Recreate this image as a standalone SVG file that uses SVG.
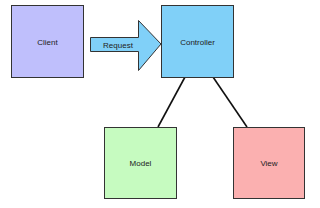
<svg xmlns="http://www.w3.org/2000/svg" width="320" height="208" viewBox="0 0 320 208">
<style>
.box{stroke:#333;stroke-width:1}
.lbl{font-family:"Liberation Sans",Arial,sans-serif;font-size:8px;fill:#222;text-anchor:middle;dominant-baseline:central}
.conn{stroke:#111;stroke-width:1.6;fill:none}
</style>
<rect width="320" height="208" fill="#fff"/>
<g id="connectors">
<line class="conn" x1="185" y1="77" x2="158" y2="127"/>
<line class="conn" x1="213" y1="77" x2="247" y2="127"/>
</g>
<g id="client">
<rect class="box" x="11.5" y="5.5" width="72" height="72" fill="#bfbffc"/>
<text class="lbl" x="47.5" y="42">Client</text>
</g>
<g id="request">
<polygon class="box" points="90.5,37.5 138.5,37.5 138.5,20.5 161,44 138.5,70.5 138.5,51.5 90.5,51.5" fill="#80d0f8"/>
<text class="lbl" x="118" y="45">Request</text>
</g>
<g id="controller">
<rect class="box" x="161.5" y="5.5" width="72" height="72" fill="#80d0f8"/>
<text class="lbl" x="197.5" y="42">Controller</text>
</g>
<g id="model">
<rect class="box" x="104.5" y="127.5" width="72" height="71" fill="#c6fbc0"/>
<text class="lbl" x="140.5" y="163">Model</text>
</g>
<g id="view">
<rect class="box" x="233.5" y="127.5" width="71" height="71" fill="#fbb0b0"/>
<text class="lbl" x="269" y="163">View</text>
</g>
</svg>
